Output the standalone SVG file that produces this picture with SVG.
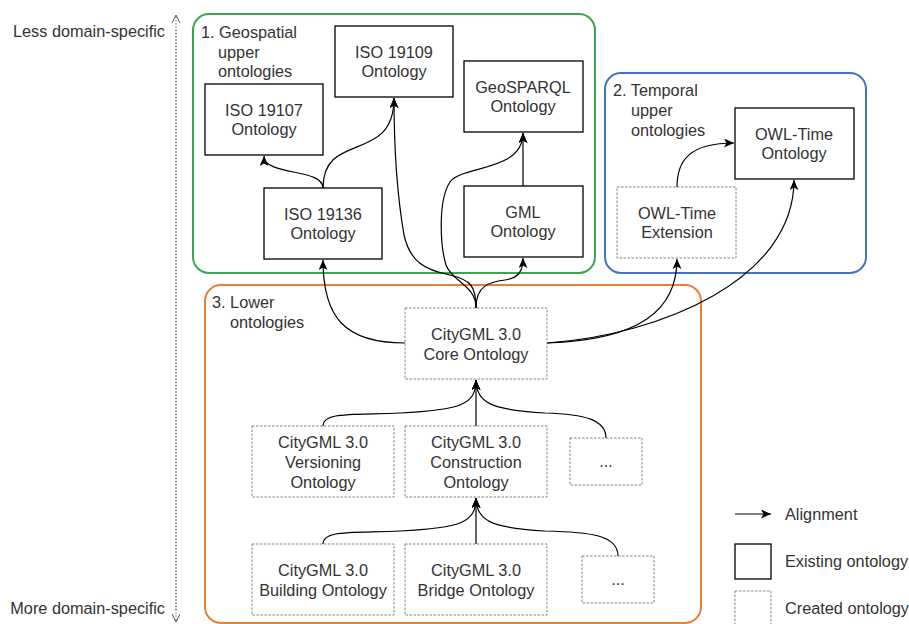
<svg xmlns="http://www.w3.org/2000/svg" width="909" height="624" viewBox="0 0 909 624">
<defs>
<style>
text{font-family:"Liberation Sans",Arial,Helvetica,sans-serif;font-size:16.3px;fill:#333;}
.c{text-anchor:middle;}
.ex{fill:#fff;stroke:#000;stroke-width:1.3;}
.cr{fill:#fff;stroke:#808080;stroke-width:1;stroke-dasharray:2.5 1.5;}
.grp{fill:none;stroke-width:2;}
.e{fill:none;stroke:#000;stroke-width:1.2;marker-end:url(#arr);}
</style>
<marker id="arr" markerUnits="userSpaceOnUse" markerWidth="11" markerHeight="10" refX="10" refY="4.5" orient="auto">
<path d="M0,0 L10,4.5 L0,9 L2.5,4.5 z" fill="#000"/>
</marker>
<marker id="open" markerUnits="userSpaceOnUse" markerWidth="12" markerHeight="10" refX="9" refY="4" orient="auto">
<path d="M1,0 L9,4 L1,8" fill="none" stroke="#555" stroke-width="1"/>
</marker>
</defs>
<rect width="909" height="624" fill="#fff"/>

<g id="axis">
<line x1="176" y1="610" x2="176" y2="15" stroke="#666" stroke-width="1.2" stroke-dasharray="1.2 2" marker-end="url(#open)"/>
<line x1="176" y1="30" x2="176" y2="622" stroke="#666" stroke-width="1.2" stroke-dasharray="1.2 2" marker-end="url(#open)"/>
<text x="165" y="37" text-anchor="end">Less domain-specific</text>
<text x="165" y="614" text-anchor="end">More domain-specific</text>
</g>

<g id="group-geospatial">
<rect class="grp" x="193" y="14" width="402" height="259" rx="16" stroke="#3aa655"/>
<text x="201" y="38">1. Geospatial<tspan x="218" y="58">upper</tspan><tspan x="218" y="77">ontologies</tspan></text>
</g>
<g id="group-temporal">
<rect class="grp" x="605" y="73" width="261" height="200" rx="16" stroke="#4672c4"/>
<text x="613" y="96">2. Temporal<tspan x="631" y="116">upper</tspan><tspan x="631" y="136">ontologies</tspan></text>
</g>
<g id="group-lower">
<rect class="grp" x="205" y="285" width="496" height="338" rx="16" stroke="#e6803c"/>
<text x="212" y="308">3. Lower<tspan x="230" y="328">ontologies</tspan></text>
</g>

<g id="connectors">
<path class="e" d="M323,188 C323,168 264,176 264,156"/>
<path class="e" d="M323,188 C323,130 394,165 394,98"/>
<path class="e" d="M476,308 C476,285 470,280 450,275 C425,270 410,262 404,235 C398,200 394,150 394,98"/>
<path class="e" d="M476,308 C476,285 452,282 446,265 C440,245 438,200 450,182 C462,165 523,172 523,133"/>
<path class="e" d="M476,308 C476,285 490,282 505,280 C518,278 523,272 523,258"/>
<path class="e" d="M523,186 L523,133"/>
<path class="e" d="M405,343 C345,343 323,318 323,260"/>
<path class="e" d="M547,343 C640,340 677,310 677,259"/>
<path class="e" d="M547,343 C660,335 794,280 794,180"/>
<path class="e" d="M677,187 C677,160 690,143 734,143"/>
<path class="e" d="M476,426 L476,380"/>
<path class="e" d="M323,426 C323,412 350,415 400,413 C460,410 476,405 476,380"/>
<path class="e" d="M606,438 C606,420 585,414 545,413 C490,410 476,402 476,380"/>
<path class="e" d="M476,544 L476,498"/>
<path class="e" d="M323,544 C323,530 350,533 400,531 C460,528 476,523 476,498"/>
<path class="e" d="M618,556 C618,535 590,532 545,531 C490,528 476,520 476,498"/>
</g>

<g id="iso19107"><rect class="ex" x="205" y="84" width="118" height="71"/><text class="c" x="264" y="116">ISO 19107<tspan x="264" y="135">Ontology</tspan></text></g>
<g id="iso19109"><rect class="ex" x="335" y="26" width="118" height="71"/><text class="c" x="394" y="58">ISO 19109<tspan x="394" y="77">Ontology</tspan></text></g>
<g id="iso19136"><rect class="ex" x="264" y="188" width="118" height="71"/><text class="c" x="323" y="220">ISO 19136<tspan x="323" y="239">Ontology</tspan></text></g>
<g id="geosparql"><rect class="ex" x="464" y="61" width="119" height="71"/><text class="c" x="523" y="93">GeoSPARQL<tspan x="523" y="112">Ontology</tspan></text></g>
<g id="gml"><rect class="ex" x="464" y="186" width="119" height="71"/><text class="c" x="523" y="218">GML<tspan x="523" y="237">Ontology</tspan></text></g>
<g id="owltime"><rect class="ex" x="735" y="108" width="119" height="71"/><text class="c" x="794" y="140">OWL-Time<tspan x="794" y="159">Ontology</tspan></text></g>
<g id="owltime-ext"><rect class="cr" x="617" y="187" width="119" height="71"/><text class="c" x="677" y="219">OWL-Time<tspan x="677" y="238">Extension</tspan></text></g>
<g id="core"><rect class="cr" x="405" y="308" width="142" height="71"/><text class="c" x="476" y="340">CityGML 3.0<tspan x="476" y="360">Core Ontology</tspan></text></g>
<g id="versioning"><rect class="cr" x="252" y="426" width="142" height="71"/><text class="c" x="323" y="448">CityGML 3.0<tspan x="323" y="468">Versioning</tspan><tspan x="323" y="488">Ontology</tspan></text></g>
<g id="construction"><rect class="cr" x="405" y="426" width="142" height="71"/><text class="c" x="476" y="448">CityGML 3.0<tspan x="476" y="468">Construction</tspan><tspan x="476" y="488">Ontology</tspan></text></g>
<g id="more1"><rect class="cr" x="570" y="438" width="72" height="47"/><text class="c" x="606" y="467">...</text></g>
<g id="building"><rect class="cr" x="252" y="544" width="142" height="71"/><text class="c" x="323" y="576">CityGML 3.0<tspan x="323" y="596">Building Ontology</tspan></text></g>
<g id="bridge"><rect class="cr" x="405" y="544" width="142" height="71"/><text class="c" x="476" y="576">CityGML 3.0<tspan x="476" y="596">Bridge Ontology</tspan></text></g>
<g id="more2"><rect class="cr" x="582" y="556" width="72" height="47"/><text class="c" x="618" y="585">...</text></g>

<g id="legend">
<line x1="735" y1="514" x2="771" y2="514" stroke="#000" stroke-width="1.2" marker-end="url(#arr)"/>
<text x="785" y="520">Alignment</text>
<rect class="ex" x="735" y="544" width="36" height="35"/>
<text x="785" y="567">Existing ontology</text>
<rect class="cr" x="735" y="591" width="36" height="35"/>
<text x="785" y="614">Created ontology</text>
</g>
</svg>
